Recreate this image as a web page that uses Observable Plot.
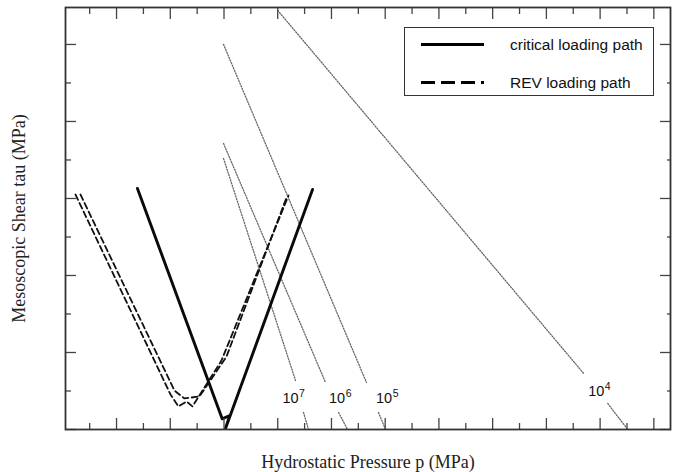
<!DOCTYPE html>
<html>
<head>
<meta charset="utf-8">
<script src="https://cdn.jsdelivr.net/npm/d3@7"></script>
<script src="https://cdn.jsdelivr.net/npm/@observablehq/plot@0.6"></script>
<style>
  html, body { margin: 0; padding: 0; background: #fff; }
  #wrap { position: relative; width: 679px; height: 472px; }
  #legend { position: absolute; left: 404px; top: 27px; width: 248px; height: 67px;
            border: 1px solid #333; background: #fff; }
</style>
</head>
<body>
<div id="wrap"></div>
<script>
// ---- data (arbitrary units, major tick = 1) ----
const xMajorTicks = [1, 2, 3, 4, 5, 6, 7, 8, 9, 10, 11];
const xMinorTicks = [0.5, 1.5, 2.5, 3.5, 4.5, 5.5, 6.5, 7.5, 8.5, 9.5, 10.5];
const yMajorTicks = [0, 1, 2, 3, 4, 5];
const yMinorTicks = [0.5, 1.5, 2.5, 3.5, 4.5];

// critical loading path (solid)
const criticalX = [1.389, 2.966, 3.108, 3.028, 4.648];
const criticalY = [3.130, 0.139, 0.182, 0.013, 3.117];

// REV loading path (dashed, two close strands)
const revAX = [0.235, 2.004, 2.153, 2.302, 2.413, 2.953, 4.201];
const revAY = [3.052, 0.455, 0.299, 0.364, 0.299, 0.896, 3.039];
const revBX = [0.328, 2.078, 2.264, 2.544, 3.047, 4.164];
const revBY = [3.052, 0.506, 0.403, 0.429, 0.948, 3.013];

// dotted iso-lines (upper and lower parts, with a gap for the label)
const curveBase = ["10", "10", "10", "10"];
const curveExp = ["7", "6", "5", "4"];
const curveUpperX = [[2.991, 4.331], [2.991, 4.890], [2.991, 5.652], [4.000, 9.695]];
const curveUpperY = [[3.519, 0.636], [3.714, 0.610], [5.000, 0.610], [5.442, 0.727]];
const curveLowerX = [[4.480, 4.573], [5.132, 5.300], [5.875, 6.006], [10.142, 10.514]];
const curveLowerY = [[0.221, 0.000], [0.221, 0.000], [0.221, 0.000], [0.338, 0.000]];
const labelX = [4.238, 5.104, 5.980, 9.927];
const labelY = [0.403, 0.403, 0.403, 0.500];

const xTitle = "Hydrostatic Pressure p (MPa)";
const yTitle = "Mesoscopic Shear tau (MPa)";
const legendLabels = ["critical loading path", "REV loading path"];

// ---- build tables ----
const critical = criticalX.map((x, i) => ({x, y: criticalY[i]}));
const rev = [
  ...revAX.map((x, i) => ({x, y: revAY[i], s: "A"})),
  ...revBX.map((x, i) => ({x, y: revBY[i], s: "B"}))
];
const dotted = [];
curveExp.forEach((e, k) => {
  curveUpperX[k].forEach((x, i) => dotted.push({x, y: curveUpperY[k][i], s: e + "u"}));
  curveLowerX[k].forEach((x, i) => dotted.push({x, y: curveLowerY[k][i], s: e + "l"}));
});
const labels = curveExp.map((e, i) => ({base: curveBase[i], e, x: labelX[i], y: labelY[i]}));

const axisStroke = "#444";
const blank = () => "";
const major = 11, minor = 6;
const sans = "Liberation Sans, Arial, sans-serif";
const serif = "Liberation Serif, Times New Roman, serif";

const chart = Plot.plot({
  width: 679,
  height: 472,
  marginLeft: 65,
  marginRight: 9,
  marginTop: 7,
  marginBottom: 43,
  x: {domain: [0.05, 11.31]},
  y: {domain: [0, 5.48]},
  style: {background: "#fff"},
  marks: [
    Plot.line(dotted, {x: "x", y: "y", z: "s", stroke: "#666", strokeWidth: 1.3, strokeDasharray: "1.2,1.6"}),
    Plot.line(rev, {x: "x", y: "y", z: "s", stroke: "#111", strokeWidth: 1.8, strokeDasharray: "6,3.5"}),
    Plot.line(critical, {x: "x", y: "y", stroke: "#0a0a0a", strokeWidth: 2.9, strokeLinejoin: "round"}),
    Plot.text(labels, {x: "x", y: "y", text: "base", fontFamily: sans, fontSize: 14.5, fill: "#111"}),
    Plot.text(labels, {x: "x", y: "y", text: "e", dx: 11.5, dy: -4.5, fontFamily: sans, fontSize: 10.5, fill: "#111"}),
    // axes: inward ticks on all four sides, no tick labels
    Plot.axisX(xMajorTicks, {anchor: "bottom", tickSize: -major, tickFormat: blank, label: null, stroke: axisStroke, strokeWidth: 1.3}),
    Plot.axisX(xMinorTicks, {anchor: "bottom", tickSize: -minor, tickFormat: blank, label: null, stroke: axisStroke, strokeWidth: 1.3}),
    Plot.axisX(xMajorTicks, {anchor: "top", tickSize: -major, tickFormat: blank, label: null, stroke: axisStroke, strokeWidth: 1.3}),
    Plot.axisX(xMinorTicks, {anchor: "top", tickSize: -minor, tickFormat: blank, label: null, stroke: axisStroke, strokeWidth: 1.3}),
    Plot.axisY(yMajorTicks, {anchor: "left", tickSize: -major, tickFormat: blank, label: null, stroke: axisStroke, strokeWidth: 1.3}),
    Plot.axisY(yMinorTicks, {anchor: "left", tickSize: -minor, tickFormat: blank, label: null, stroke: axisStroke, strokeWidth: 1.3}),
    Plot.axisY(yMajorTicks, {anchor: "right", tickSize: -major, tickFormat: blank, label: null, stroke: axisStroke, strokeWidth: 1.3}),
    Plot.axisY(yMinorTicks, {anchor: "right", tickSize: -4, tickFormat: blank, label: null, stroke: axisStroke, strokeWidth: 1.3}),
    Plot.frame({stroke: "#333", strokeWidth: 1.8}),
    Plot.text([xTitle], {frameAnchor: "bottom", textAnchor: "middle", dy: 33, lineAnchor: "middle", fontFamily: serif, fontSize: 18, fill: "#222"}),
    Plot.text([yTitle], {frameAnchor: "left", textAnchor: "middle", rotate: -90, dx: -46, lineAnchor: "middle", fontFamily: serif, fontSize: 18, fill: "#222"})
  ]
});

const wrap = document.getElementById("wrap");
wrap.appendChild(chart);

// legend overlay (HTML/SVG), entries taken from legendLabels
const legend = document.createElement("div");
legend.id = "legend";
const dashes = [null, "14,6"];
legend.innerHTML = `<svg width="248" height="67" style="display:block">
  ${legendLabels.map((lab, i) => {
    const cy = 16.5 + i * 38;
    return `<line x1="16" x2="79" y1="${cy}" y2="${cy}" stroke="#000" stroke-width="3"${dashes[i] ? ` stroke-dasharray="${dashes[i]}"` : ""}/>
    <text x="105" y="${cy}" dominant-baseline="central" font-family="${sans}" font-size="15.5" fill="#111">${lab}</text>`;
  }).join("")}
</svg>`;
wrap.appendChild(legend);
</script>
</body>
</html>
